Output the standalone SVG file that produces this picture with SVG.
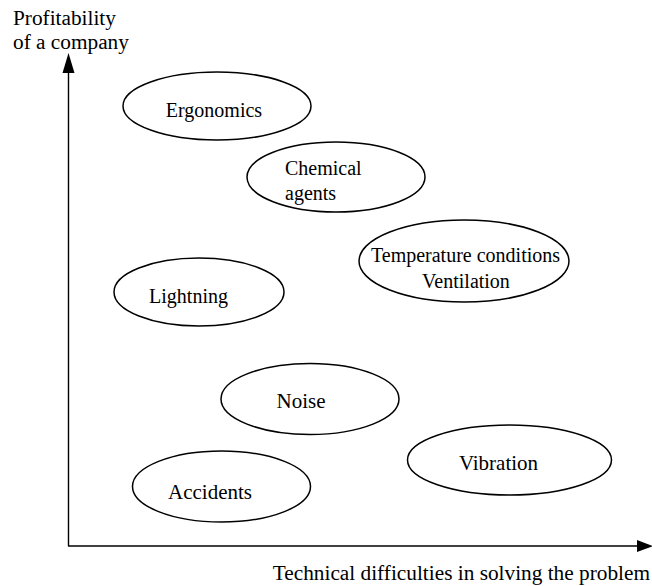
<svg xmlns="http://www.w3.org/2000/svg" width="652" height="586" viewBox="0 0 652 586">
<style>
text{font-family:"Liberation Serif","Times New Roman",Times,serif;fill:#000}
.n ellipse{fill:none;stroke:#000;stroke-width:1.5}
.ax{stroke:#000;stroke-width:1.4;fill:none}
</style>
<rect width="652" height="586" fill="#fff"/>
<g id="connectors">
<line class="ax" x1="68.5" y1="546" x2="68.5" y2="70"/>
<polygon points="68.5,53 62.5,73 74.5,73" fill="#000"/>
<line class="ax" x1="68" y1="546" x2="638" y2="546"/>
<polygon points="653,546 637,540 637,552" fill="#000"/>
</g>
<g id="axis-y-label"><text x="13" y="25" font-size="21.3" font-family="Liberation Serif, serif">Profitability</text><text x="13" y="49" font-size="21.3">of a company</text></g>
<g id="axis-x-label"><text x="650" y="580" font-size="21.3" text-anchor="end">Technical difficulties in solving the problem</text></g>
<g id="ergonomics" class="n"><ellipse cx="217" cy="106" rx="94" ry="34"/><text x="214" y="117" font-size="20" text-anchor="middle">Ergonomics</text></g>
<g id="chemical" class="n"><ellipse cx="336" cy="177" rx="89" ry="35"/><text x="285" y="175" font-size="20">Chemical</text><text x="285" y="200" font-size="20">agents</text></g>
<g id="temperature" class="n"><ellipse cx="464" cy="261" rx="105" ry="41"/><text x="465.5" y="262" font-size="20" text-anchor="middle">Temperature conditions</text><text x="466" y="288" font-size="20" text-anchor="middle">Ventilation</text></g>
<g id="lightning" class="n"><ellipse cx="199" cy="292" rx="85" ry="34"/><text x="188.5" y="303" font-size="20" text-anchor="middle">Lightning</text></g>
<g id="noise" class="n"><ellipse cx="310" cy="399" rx="89" ry="35.5"/><text x="301" y="408" font-size="21" text-anchor="middle">Noise</text></g>
<g id="vibration" class="n"><ellipse cx="509.5" cy="460" rx="102" ry="35"/><text x="498.5" y="470" font-size="21" text-anchor="middle">Vibration</text></g>
<g id="accidents" class="n"><ellipse cx="221.5" cy="486.5" rx="89" ry="35.5"/><text x="210" y="499" font-size="21" text-anchor="middle">Accidents</text></g>
</svg>
